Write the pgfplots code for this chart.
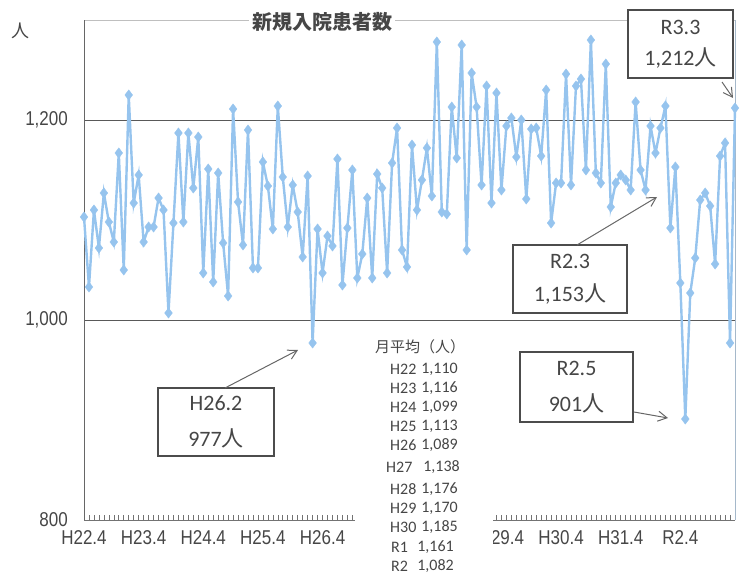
\documentclass[border=0pt]{standalone}
\usepackage{fontspec}
\setmainfont{Liberation Sans}
\newfontfamily\narrowfont[FakeStretch=0.85]{Liberation Sans}
\newfontfamily\cjk{Noto Sans CJK JP}
\newfontfamily\calfont{Carlito}
\usepackage{pgfplots}
\pgfplotsset{compat=1.18}
\usetikzlibrary{arrows.meta}
\definecolor{ser}{RGB}{150,196,238}
\definecolor{txt}{RGB}{70,70,70}
\pgfplotstableread{
i v
0 1103
1 1033
2 1110
3 1072
4 1127
5 1098
6 1078
7 1167
8 1050
9 1225
10 1117
11 1145
12 1078
13 1093
14 1093
15 1122
16 1110
17 1007
18 1097
19 1187
20 1098
21 1187
22 1132
23 1183
24 1047
25 1151
26 1038
27 1147
28 1077
29 1024
30 1211
31 1118
32 1075
33 1190
34 1052
35 1052
36 1158
37 1134
38 1091
39 1214
40 1143
41 1093
42 1135
43 1108
44 1063
45 1144
46 977
47 1091
48 1047
49 1084
50 1074
51 1161
52 1035
53 1092
54 1150
55 1042
56 1066
57 1122
58 1042
59 1146
60 1132
61 1047
62 1157
63 1192
64 1070
65 1053
66 1175
67 1110
68 1140
69 1172
70 1124
71 1278
72 1108
73 1106
74 1213
75 1162
76 1275
77 1070
78 1247
79 1213
80 1135
81 1234
82 1117
83 1227
84 1130
85 1194
86 1202
87 1163
88 1200
89 1121
90 1191
91 1192
92 1164
93 1230
94 1097
95 1137
96 1137
97 1246
98 1135
99 1234
100 1241
101 1150
102 1280
103 1147
104 1137
105 1256
106 1113
107 1137
108 1145
109 1140
110 1130
111 1218
112 1150
113 1130
114 1194
115 1167
116 1192
117 1214
118 1092
119 1153
120 1037
121 901
122 1027
123 1062
124 1120
125 1127
126 1114
127 1056
128 1164
129 1177
130 977
131 1212
}\datatable
\begin{document}
\begin{tikzpicture}[x=1pt,y=1pt]
\path[use as bounding box] (0,0) rectangle (743,578);
\begin{axis}[
  at={(84pt,58pt)}, anchor=south west,
  scale only axis, width=651pt, height=500pt,
  xmin=0, xmax=131, ymin=800, ymax=1300,
  axis line style={draw=none},
  ytick={800,1000,1200}, yticklabels={800,{1,000},{1,200}},
  xtick={0,12,...,120},
  xticklabels={H22.4,H23.4,H24.4,H25.4,H26.4,{},{},H29.4,H30.4,H31.4,R2.4},
  minor xtick={0,...,131},
  ymajorgrids=true,
  major grid style={draw=black!65, line width=0.9pt},
  ytick style={draw=none},
  xtick style={draw=black!55, line width=0.6pt},
  major tick length=5pt, minor tick length=5pt,
  xtick pos=bottom, tick align=inside,
  ticklabel style={font=\narrowfont\fontsize{20}{20}\selectfont, text=txt, inner sep=0pt},
  yticklabel style={anchor=east, xshift=-16pt},
  xticklabel style={anchor=north, yshift=-10pt},
  clip=false,
]
\draw[black!25, line width=0.8pt] (axis cs:0,1300) -- (axis cs:131,1300);
\draw[ser!70!black!60, line width=0.8pt] (axis cs:131,800) -- (axis cs:131,1300);
\draw[black!60, line width=0.9pt] (axis cs:0,800) -- (axis cs:0,1300);
\draw[black!55, line width=0.9pt] (axis cs:0,800) -- (axis cs:131,800);
\addplot[color=ser, line width=2.4pt, mark=diamond*, mark size=5.2pt,
  mark options={fill=ser, draw=ser, line width=0.3pt}] table[x=i, y=v] {\datatable};
\end{axis}
% title
\node[fill=white, inner sep=3pt, text=txt, font=\cjk\bfseries\fontsize{20}{20}\selectfont] at (322,556) {新規入院患者数};
% unit
\node[text=txt, font=\cjk\fontsize{18}{18}\selectfont] at (20,547) {人};
% table box
\fill[white] (355,0) rectangle (493,246);
\node[text=txt, font=\cjk\fontsize{15}{15}\selectfont] at (420,231) {月平均（人）};
\begin{scope}[every node/.style={text=txt, font=\calfont\fontsize{16}{16}\selectfont, inner sep=0pt}]
\node[anchor=west] at (390,209) {H22}; \node[anchor=east] at (458,209) {1,110};
\node[anchor=west] at (390,190) {H23}; \node[anchor=east] at (458,190) {1,116};
\node[anchor=west] at (390,171) {H24}; \node[anchor=east] at (458,171) {1,099};
\node[anchor=west] at (390,152) {H25}; \node[anchor=east] at (458,152) {1,113};
\node[anchor=west] at (390,133) {H26}; \node[anchor=east] at (458,133) {1,089};
\node[anchor=west] at (386,111) {H27}; \node[anchor=east] at (460,111) {1,138};
\node[anchor=west] at (390,89) {H28}; \node[anchor=east] at (458,89) {1,176};
\node[anchor=west] at (390,70) {H29}; \node[anchor=east] at (458,70) {1,170};
\node[anchor=west] at (390,51) {H30}; \node[anchor=east] at (458,51) {1,185};
\node[anchor=west] at (391,31) {R1}; \node[anchor=east] at (454,31) {1,161};
\node[anchor=west] at (391,12) {R2}; \node[anchor=east] at (454,12) {1,082};
\end{scope}
% callouts
\begin{scope}[every node/.style={text=txt, font=\calfont\fontsize{22}{22}\selectfont}]
\draw[black!70, line width=1.2pt, fill=white] (158,122) rectangle (274,190);
\node at (216,175) {H26.2};
\node at (216,140) {977{\cjk 人}};
\draw[black!60, line width=1pt, -{Straight Barb[length=9pt,width=10pt]}] (225,190) -- (298,228);
\draw[black!70, line width=1.2pt, fill=white] (513,265) rectangle (627,333);
\node at (570,317) {R2.3};
\node at (570,284) {1,153{\cjk 人}};
\draw[black!60, line width=1pt, -{Straight Barb[length=9pt,width=10pt]}] (577,333) -- (657,381);
\draw[black!70, line width=1.2pt, fill=white] (520,156) rectangle (633,226);
\node at (576.5,210) {R2.5};
\node at (576.5,175) {901{\cjk 人}};
\draw[black!60, line width=1pt, -{Straight Barb[length=9pt,width=10pt]}] (634,166) -- (668,160);
\draw[black!70, line width=1.2pt, fill=white] (628,500) rectangle (733,568);
\node at (680.5,551) {R3.3};
\node at (680.5,520) {1,212{\cjk 人}};
\draw[black!60, line width=1pt, -{Straight Barb[length=9pt,width=10pt]}] (722,496) -- (733,480);
\end{scope}
\end{tikzpicture}
\end{document}
